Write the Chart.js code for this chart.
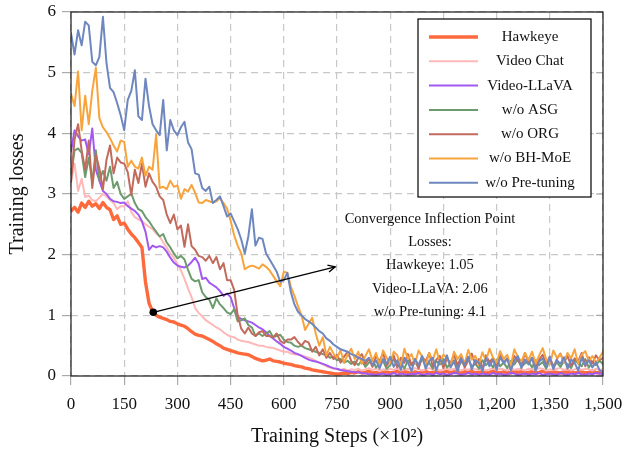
<!DOCTYPE html>
<html>
<head>
<meta charset="utf-8">
<script src="https://cdn.jsdelivr.net/npm/chart.js@4.4.1/dist/chart.umd.min.js"></script>
<style>
  html, body { margin: 0; padding: 0; background: #fff; }
  canvas { display: block; }
</style>
</head>
<body>
<canvas id="lossChart" width="625" height="451"></canvas>
<script>
// training steps (x10^2), one sample every 10
const steps = [];
for (let s = 0; s <= 1500; s += 10) steps.push(s);

const seriesNames = ['Hawkeye', 'Video Chat', 'Video-LLaVA', 'w/o ASG', 'w/o ORG', 'w/o BH-MoE', 'w/o Pre-tuning'];
const seriesColors = ['#ff6a3d', '#ffb8b8', '#a259f0', '#6d9b6d', '#c26a5c', '#f8a43c', '#6f87bf'];
const seriesWidths = [3.4, 2, 2, 2, 2, 2, 2];

const hawkeye = [
  2.72, 2.78, 2.70, 2.85, 2.78, 2.88, 2.80, 2.84, 2.76, 2.86,
  2.78, 2.74, 2.58, 2.64, 2.50, 2.52, 2.42, 2.34, 2.28, 2.20,
  2.12, 1.55, 1.20, 1.06, 1.00, 0.97, 0.95, 0.93, 0.90, 0.89,
  0.86, 0.84, 0.82, 0.78, 0.73, 0.69, 0.67, 0.66, 0.63, 0.60,
  0.57, 0.53, 0.50, 0.46, 0.44, 0.42, 0.40, 0.38, 0.37, 0.36,
  0.35, 0.32, 0.29, 0.27, 0.25, 0.26, 0.28, 0.25, 0.24, 0.23,
  0.21, 0.20, 0.19, 0.17, 0.16, 0.15, 0.13, 0.12, 0.10, 0.09,
  0.08, 0.07, 0.06, 0.05, 0.04, 0.03, 0.04, 0.05, 0.04, 0.06,
  0.05, 0.07, 0.05, 0.06, 0.08, 0.05, 0.06, 0.04, 0.06, 0.07,
  0.05, 0.06, 0.08, 0.05, 0.07, 0.06, 0.04, 0.07, 0.05, 0.06,
  0.08, 0.05, 0.06, 0.07, 0.05, 0.06, 0.08, 0.05, 0.07, 0.06,
  0.05, 0.07, 0.06, 0.08, 0.05, 0.06, 0.07, 0.05, 0.06, 0.08,
  0.06, 0.05, 0.07, 0.06, 0.05, 0.08, 0.06, 0.07, 0.05, 0.06,
  0.07, 0.05, 0.06, 0.08, 0.06, 0.05, 0.07, 0.06, 0.05, 0.07,
  0.06, 0.08, 0.05, 0.06, 0.07, 0.05, 0.06, 0.08, 0.06, 0.05,
  0.07
];
const videoChat = [
  3.20, 3.50, 3.05, 3.25, 2.95, 2.97, 2.90, 2.88, 2.94, 3.00,
  2.96, 2.90, 2.85, 2.75, 2.80, 2.80, 2.88, 2.70, 2.62, 2.58,
  2.55, 2.50, 2.46, 2.42, 2.35, 2.30, 2.20, 2.12, 2.02, 1.95,
  1.85, 1.74, 1.60, 1.44, 1.30, 1.12, 1.04, 0.98, 0.92, 0.88,
  0.84, 0.80, 0.77, 0.72, 0.68, 0.65, 0.64, 0.60, 0.58, 0.57,
  0.56, 0.54, 0.52, 0.50, 0.50, 0.48, 0.47, 0.46, 0.44, 0.42,
  0.40, 0.40, 0.37, 0.36, 0.35, 0.34, 0.32, 0.30, 0.28, 0.25,
  0.22, 0.19, 0.16, 0.14, 0.12, 0.11, 0.10, 0.12, 0.09, 0.11,
  0.10, 0.12, 0.09, 0.11, 0.13, 0.10, 0.12, 0.09, 0.11, 0.10,
  0.12, 0.10, 0.13, 0.09, 0.11, 0.12, 0.10, 0.13, 0.11, 0.09,
  0.11, 0.13, 0.10, 0.12, 0.09, 0.11, 0.13, 0.10, 0.12, 0.11,
  0.09, 0.12, 0.10, 0.13, 0.11, 0.10, 0.12, 0.09, 0.11, 0.13,
  0.10, 0.12, 0.11, 0.09, 0.13, 0.10, 0.12, 0.11, 0.09, 0.12,
  0.11, 0.10, 0.13, 0.12, 0.09, 0.11, 0.10, 0.12, 0.13, 0.10,
  0.12, 0.09, 0.11, 0.13, 0.10, 0.12, 0.11, 0.09, 0.12, 0.10,
  0.11
];
const videoLlava = [
  3.70, 4.05, 3.95, 3.88, 3.90, 3.65, 4.08, 3.40, 3.22, 3.05,
  3.00, 2.92, 2.88, 2.87, 2.85, 2.86, 2.80, 2.76, 2.72, 2.66,
  2.55, 2.38, 2.08, 2.15, 2.12, 2.14, 2.12, 2.05, 1.95, 1.87,
  1.82, 1.80, 1.79, 1.82, 1.88, 1.95, 1.85, 1.60, 1.62, 1.54,
  1.50, 1.46, 1.40, 1.32, 1.36, 1.30, 1.12, 0.98, 0.94, 0.92,
  0.90, 0.88, 0.84, 0.80, 0.77, 0.72, 0.66, 0.62, 0.57, 0.53,
  0.48, 0.45, 0.42, 0.38, 0.36, 0.33, 0.30, 0.27, 0.25, 0.24,
  0.22, 0.20, 0.18, 0.15, 0.13, 0.12, 0.10, 0.09, 0.08, 0.07,
  0.06, 0.06, 0.05, 0.04, 0.03, 0.03, 0.02, 0.03, 0.04, 0.02,
  0.03, 0.05, 0.02, 0.04, 0.03, 0.02, 0.04, 0.03, 0.05, 0.02,
  0.03, 0.04, 0.02, 0.05, 0.03, 0.04, 0.02, 0.03, 0.05, 0.04,
  0.02, 0.03, 0.05, 0.03, 0.04, 0.02, 0.04, 0.03, 0.02, 0.05,
  0.03, 0.04, 0.02, 0.03, 0.05, 0.04, 0.02, 0.03, 0.04, 0.02,
  0.04, 0.03, 0.05, 0.02, 0.03, 0.04, 0.03, 0.02, 0.05, 0.03,
  0.02, 0.04, 0.03, 0.05, 0.03, 0.02, 0.04, 0.03, 0.05, 0.04,
  0.03
];
const woASG = [
  3.30, 3.72, 3.75, 3.68, 3.28, 3.60, 3.20, 3.72, 3.22, 3.38,
  3.22, 3.45, 3.10, 3.20, 3.00, 2.92, 2.96, 3.01, 2.85, 2.75,
  2.72, 2.62, 2.55, 2.46, 2.38, 2.30, 2.34, 2.20, 2.12, 2.02,
  1.94, 1.98, 1.92, 1.75, 1.60, 1.56, 1.58, 1.38, 1.30, 1.26,
  1.12, 1.28, 1.18, 1.12, 1.05, 1.02, 1.10, 0.90, 0.92, 0.95,
  0.84, 0.80, 0.66, 0.70, 0.66, 0.70, 0.74, 0.64, 0.66, 0.68,
  0.60, 0.56, 0.55, 0.50, 0.48, 0.50, 0.46, 0.44, 0.42, 0.40,
  0.38, 0.36, 0.35, 0.30, 0.32, 0.26, 0.28, 0.22, 0.25, 0.20,
  0.24, 0.18, 0.26, 0.15, 0.22, 0.28, 0.14, 0.20, 0.25, 0.12,
  0.18, 0.28, 0.15, 0.22, 0.12, 0.26, 0.18, 0.24, 0.14, 0.30,
  0.16, 0.22, 0.12, 0.25, 0.19, 0.28, 0.14, 0.21, 0.26, 0.13,
  0.24, 0.17, 0.29, 0.15, 0.21, 0.12, 0.26, 0.18, 0.23, 0.14,
  0.27, 0.16, 0.22, 0.13, 0.25, 0.19, 0.28, 0.15, 0.21, 0.24,
  0.14, 0.26, 0.18, 0.23, 0.12, 0.27, 0.17, 0.22, 0.15, 0.25,
  0.19, 0.13, 0.26, 0.21, 0.16, 0.28, 0.14, 0.22, 0.18, 0.25,
  0.20
];
const woORG = [
  3.20, 3.90, 4.15, 3.72, 3.40, 3.88, 3.10, 3.65, 3.42, 3.08,
  3.56, 3.80, 3.34, 3.60, 3.52, 3.50, 3.36, 2.98, 3.40, 3.18,
  3.50, 3.12, 3.34, 3.20, 3.12, 2.96, 2.90, 2.66, 2.52, 2.66,
  2.42, 2.48, 2.13, 2.50, 2.14, 2.08, 1.98, 1.96, 1.90, 1.98,
  1.86, 1.96, 1.76, 1.86, 1.58, 1.58, 1.42, 1.00, 0.78, 0.70,
  0.80, 0.70, 0.66, 0.72, 0.74, 0.66, 0.66, 0.64, 0.70, 0.58,
  0.54, 0.60, 0.60, 0.64, 0.56, 0.50, 0.58, 0.55, 0.40, 0.48,
  0.34, 0.44, 0.30, 0.38, 0.28, 0.35, 0.22, 0.32, 0.40, 0.25,
  0.18, 0.30, 0.36, 0.20, 0.28, 0.15, 0.33, 0.24, 0.38, 0.17,
  0.26, 0.34, 0.14, 0.30, 0.22, 0.36, 0.18, 0.28, 0.12, 0.32,
  0.24, 0.38, 0.16, 0.27, 0.33, 0.13, 0.29, 0.21, 0.35, 0.18,
  0.31, 0.14, 0.26, 0.37, 0.19, 0.28, 0.12, 0.34, 0.23, 0.30,
  0.16, 0.36, 0.22, 0.29, 0.13, 0.33, 0.25, 0.18, 0.38, 0.21,
  0.30, 0.15, 0.27, 0.35, 0.19, 0.32, 0.14, 0.28, 0.37, 0.22,
  0.33, 0.17, 0.29, 0.24, 0.38, 0.16, 0.31, 0.21, 0.34, 0.26,
  0.30
];
const woBHMoE = [
  4.65, 4.45, 5.02, 4.05, 4.62, 4.15, 4.70, 5.08, 4.25, 4.10,
  4.02, 3.92, 3.80, 3.70, 3.88, 3.86, 3.45, 3.55, 3.45, 3.42,
  3.60, 3.30, 3.45, 3.40, 3.98, 3.10, 3.12, 3.08, 3.22, 3.12,
  3.14, 2.92, 3.08, 3.04, 3.15, 3.02, 2.86, 2.85, 2.90, 2.88,
  2.86, 2.88, 2.93, 2.85, 2.76, 2.56, 2.32, 2.15, 2.02, 1.76,
  1.80, 1.82, 1.80, 1.77, 1.84, 1.80, 1.74, 1.65, 1.56, 1.48,
  1.72, 1.70, 1.47, 1.32, 1.15, 1.00, 0.76, 0.86, 0.96, 0.70,
  0.50, 0.64, 0.34, 0.48, 0.37, 0.30, 0.42, 0.22, 0.35, 0.45,
  0.28, 0.40, 0.20, 0.33, 0.44, 0.25, 0.38, 0.18, 0.42, 0.30,
  0.22, 0.40, 0.34, 0.15, 0.45, 0.28, 0.36, 0.20, 0.42, 0.32,
  0.18, 0.38, 0.26, 0.44, 0.22, 0.35, 0.30, 0.16, 0.40, 0.28,
  0.36, 0.20, 0.43, 0.27, 0.33, 0.18, 0.39, 0.25, 0.45, 0.30,
  0.22, 0.41, 0.28, 0.35, 0.17, 0.44, 0.31, 0.24, 0.38, 0.26,
  0.40, 0.21, 0.34, 0.46, 0.27, 0.19, 0.42, 0.30, 0.36, 0.23,
  0.38, 0.29, 0.44, 0.20, 0.35, 0.41, 0.25, 0.33, 0.22, 0.30,
  0.40
];
const woPretuning = [
  5.65, 5.30, 5.70, 5.45, 5.84, 5.78, 5.18, 5.12, 5.26, 5.92,
  5.16, 4.75, 4.68, 4.50, 4.30, 4.05, 4.55, 4.70, 5.04, 4.28,
  4.22, 4.90, 4.45, 4.15, 4.05, 3.97, 4.55, 3.72, 4.22, 4.05,
  3.97, 4.10, 4.19, 3.85, 3.74, 3.34, 3.32, 3.10, 3.05, 3.12,
  2.85, 2.90, 2.96, 2.80, 2.63, 2.68, 2.55, 2.42, 2.25, 2.02,
  2.30, 2.75, 2.15, 2.28, 2.26, 2.02, 1.92, 1.82, 1.72, 1.55,
  1.58, 1.70, 1.38, 1.18, 1.06, 1.00, 0.94, 0.90, 0.86, 0.80,
  0.74, 0.70, 0.62, 0.58, 0.52, 0.48, 0.44, 0.42, 0.40, 0.36,
  0.34, 0.30, 0.28, 0.25, 0.30, 0.18, 0.26, 0.12, 0.28, 0.20,
  0.32, 0.15, 0.26, 0.10, 0.30, 0.22, 0.08, 0.28, 0.18, 0.33,
  0.12, 0.25, 0.30, 0.09, 0.27, 0.20, 0.34, 0.14, 0.24, 0.07,
  0.29, 0.18, 0.32, 0.11, 0.26, 0.22, 0.08, 0.30, 0.16, 0.27,
  0.10, 0.31, 0.21, 0.28, 0.09, 0.25, 0.33, 0.13, 0.27, 0.19,
  0.30, 0.08, 0.24, 0.29, 0.15, 0.32, 0.11, 0.26, 0.20, 0.31,
  0.12, 0.27, 0.22, 0.09, 0.30, 0.18, 0.26, 0.14, 0.23, 0.10,
  0.06
];
const seriesValues = [hawkeye, videoChat, videoLlava, woASG, woORG, woBHMoE, woPretuning];

// annotation: inflection point of Hawkeye and where the arrow points
const inflection = { step: 232, loss: 1.05 };
const arrowEnd = { step: 745, loss: 1.8 };
const noteAnchor = { step: 1012, loss: 2.59 };
const noteLines = ['Convergence Inflection Point', 'Losses:', 'Hawkeye: 1.05', 'Video-LLaVA: 2.06', 'w/o Pre-tuning: 4.1'];

const serif = '"Liberation Serif", "DejaVu Serif", serif';

const overlay = {
    id: 'overlay',
    afterDraw(chart) {
        const ctx = chart.ctx;
        const a = chart.chartArea;
        const x = chart.scales.x, y = chart.scales.y;
        ctx.save();

        // inner ticks on the right side
        ctx.strokeStyle = '#aaaaaa';
        ctx.lineWidth = 1.2;
        y.ticks.forEach(t => {
            const py = y.getPixelForValue(t.value);
            ctx.beginPath();
            ctx.moveTo(a.right - 7, py);
            ctx.lineTo(a.right, py);
            ctx.stroke();
        });

        // frame
        ctx.strokeStyle = '#1a1a1a';
        ctx.lineWidth = 1.2;
        ctx.strokeRect(a.left, a.top, a.right - a.left, a.bottom - a.top);

        // arrow from the inflection point
        const x1 = x.getPixelForValue(inflection.step), y1 = y.getPixelForValue(inflection.loss);
        const x2 = x.getPixelForValue(arrowEnd.step), y2 = y.getPixelForValue(arrowEnd.loss);
        const ang = Math.atan2(y2 - y1, x2 - x1);
        ctx.strokeStyle = '#000';
        ctx.lineWidth = 1.3;
        ctx.beginPath();
        ctx.moveTo(x1, y1);
        ctx.lineTo(x2, y2);
        ctx.stroke();
        ctx.beginPath();
        ctx.moveTo(x2 - 8 * Math.cos(ang - 0.45), y2 - 8 * Math.sin(ang - 0.45));
        ctx.lineTo(x2, y2);
        ctx.lineTo(x2 - 8 * Math.cos(ang + 0.45), y2 - 8 * Math.sin(ang + 0.45));
        ctx.stroke();
        ctx.fillStyle = '#000';
        ctx.beginPath();
        ctx.arc(x1, y1, 3.8, 0, Math.PI * 2);
        ctx.fill();

        // note text
        ctx.font = '14.5px ' + serif;
        ctx.textAlign = 'center';
        ctx.textBaseline = 'middle';
        ctx.fillStyle = '#111';
        const nx = x.getPixelForValue(noteAnchor.step), ny = y.getPixelForValue(noteAnchor.loss);
        noteLines.forEach((line, i) => ctx.fillText(line, nx, ny + i * 23.3));

        // legend box
        const bw = 173, bh = 178;
        const bx = a.right - 12 - bw, by = a.top + 7;
        ctx.fillStyle = '#fff';
        ctx.fillRect(bx, by, bw, bh);
        ctx.strokeStyle = '#000';
        ctx.lineWidth = 1.2;
        ctx.strokeRect(bx, by, bw, bh);
        ctx.font = '15px ' + serif;
        seriesNames.forEach((name, i) => {
            const ry = by + 18 + i * 24.3;
            ctx.strokeStyle = seriesColors[i];
            ctx.lineWidth = seriesWidths[i];
            ctx.beginPath();
            ctx.moveTo(bx + 11, ry);
            ctx.lineTo(bx + 60, ry);
            ctx.stroke();
            ctx.fillStyle = '#111';
            ctx.fillText(name, bx + 112, ry);
        });
        ctx.restore();
    }
};

const datasets = seriesNames.map((name, i) => ({
    label: name,
    data: steps.map((s, j) => ({ x: s, y: seriesValues[i][j] })),
    borderColor: seriesColors[i],
    backgroundColor: seriesColors[i],
    borderWidth: seriesWidths[i],
    borderJoinStyle: 'round',
    borderCapStyle: 'round',
    pointRadius: 0,
    tension: 0,
    order: seriesNames.length - i
}));

new Chart(document.getElementById('lossChart').getContext('2d'), {
    type: 'line',
    data: { datasets: datasets },
    options: {
        responsive: false,
        animation: false,
        devicePixelRatio: 1,
        layout: { padding: { left: 0, right: 22, top: 12, bottom: 0 } },
        plugins: {
            legend: { display: false },
            tooltip: { enabled: false }
        },
        scales: {
            x: {
                type: 'linear',
                min: 0,
                max: 1500,
                ticks: {
                    stepSize: 150,
                    autoSkip: false,
                    maxRotation: 0,
                    padding: 9,
                    color: '#111',
                    font: { family: serif, size: 17 },
                    callback: v => v.toLocaleString('en-US')
                },
                grid: { color: '#c8c8c8', lineWidth: 1.2, tickColor: '#aaaaaa', tickLength: 9, tickWidth: 1.2 },
                border: { display: false, dash: [7, 5] },
                title: {
                    display: true,
                    text: 'Training Steps (×10²)',
                    color: '#111',
                    font: { family: serif, size: 20 },
                    padding: { top: 0, bottom: 2 }
                },
                afterFit: s => {
                    s.height = 75;
                    s.paddingLeft = 0;
                    s.paddingRight = 0;
                }
            },
            y: {
                min: 0,
                max: 6,
                ticks: {
                    stepSize: 1,
                    padding: 6,
                    color: '#111',
                    font: { family: serif, size: 17 }
                },
                grid: { color: '#c8c8c8', lineWidth: 1.2, tickColor: '#aaaaaa', tickLength: 9, tickWidth: 1.2 },
                border: { display: false, dash: [7, 5] },
                title: {
                    display: true,
                    text: 'Training losses',
                    color: '#111',
                    font: { family: serif, size: 20 },
                    padding: { top: 6, bottom: 0 }
                },
                afterFit: s => {
                    s.width = 71;
                    s.paddingTop = 0;
                    s.paddingBottom = 0;
                }
            }
        }
    },
    plugins: [overlay]
});
</script>
</body>
</html>
